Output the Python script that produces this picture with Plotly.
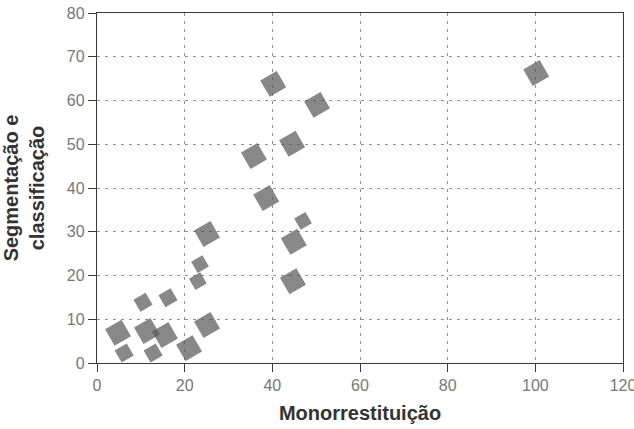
import plotly.graph_objects as go

# Data
monorrestituicao = [40.2, 50.2, 100.2, 35.8, 44.5, 38.6, 47.0, 44.9, 44.7, 25.1,
                    23.5, 23.0, 10.5, 16.2, 4.8, 11.4, 15.5, 25.1, 6.2, 12.8, 21.0]
segmentacao = [63.8, 59.0, 66.3, 47.3, 50.1, 37.7, 32.5, 27.7, 18.7, 29.5,
               22.6, 18.7, 13.9, 14.9, 6.9, 7.3, 6.4, 8.7, 2.3, 2.3, 3.4]
x_ticks = [0, 20, 40, 60, 80, 100, 120]
y_ticks = [0, 10, 20, 30, 40, 50, 60, 70, 80]

# marker styling (visual size of each glyph)
marker_sizes = [19, 19, 19, 19, 19, 19, 13, 19, 19, 19,
                13, 13, 14, 14, 19, 19, 19, 19, 14, 14, 19]

fig = go.Figure()
fig.add_trace(go.Scatter(
    x=monorrestituicao, y=segmentacao, mode="markers",
    marker=dict(symbol="square", size=marker_sizes, angle=-30,
                color="#555555", line=dict(width=0)),
    showlegend=False, hoverinfo="x+y", cliponaxis=False))

axis_common = dict(
    showline=True, linecolor="#3a3a3a", linewidth=1.3, mirror=True,
    ticks="outside", ticklen=8, tickcolor="#3a3a3a", tickwidth=1,
    showgrid=True, gridcolor="#8f8f8f", griddash="3px,5px", gridwidth=1,
    zeroline=False, automargin=False, ticklabeloverflow="allow",
    tickfont=dict(family="Liberation Sans, Arial, sans-serif", size=16, color="#787878"),
)

fig.update_layout(
    width=634, height=429,
    margin=dict(l=97, r=11, t=13, b=66),
    paper_bgcolor="white", plot_bgcolor="white",
    xaxis=dict(range=[0, 120], tickvals=x_ticks, **axis_common,
               title=dict(text="<b>Monorrestituição</b>", standoff=12,
                          font=dict(family="Liberation Sans, Arial, sans-serif", size=20, color="#333333"))),
    yaxis=dict(range=[0, 80], tickvals=y_ticks, **axis_common,
               title=dict(text="<b>Segmentação e<br>classificação</b>", standoff=16,
                          font=dict(family="Liberation Sans, Arial, sans-serif", size=20, color="#333333"))),
)

fig.write_html("out.html", config={"displayModeBar": False},
               post_script="document.body.style.margin='0';document.body.style.overflow='hidden';")
